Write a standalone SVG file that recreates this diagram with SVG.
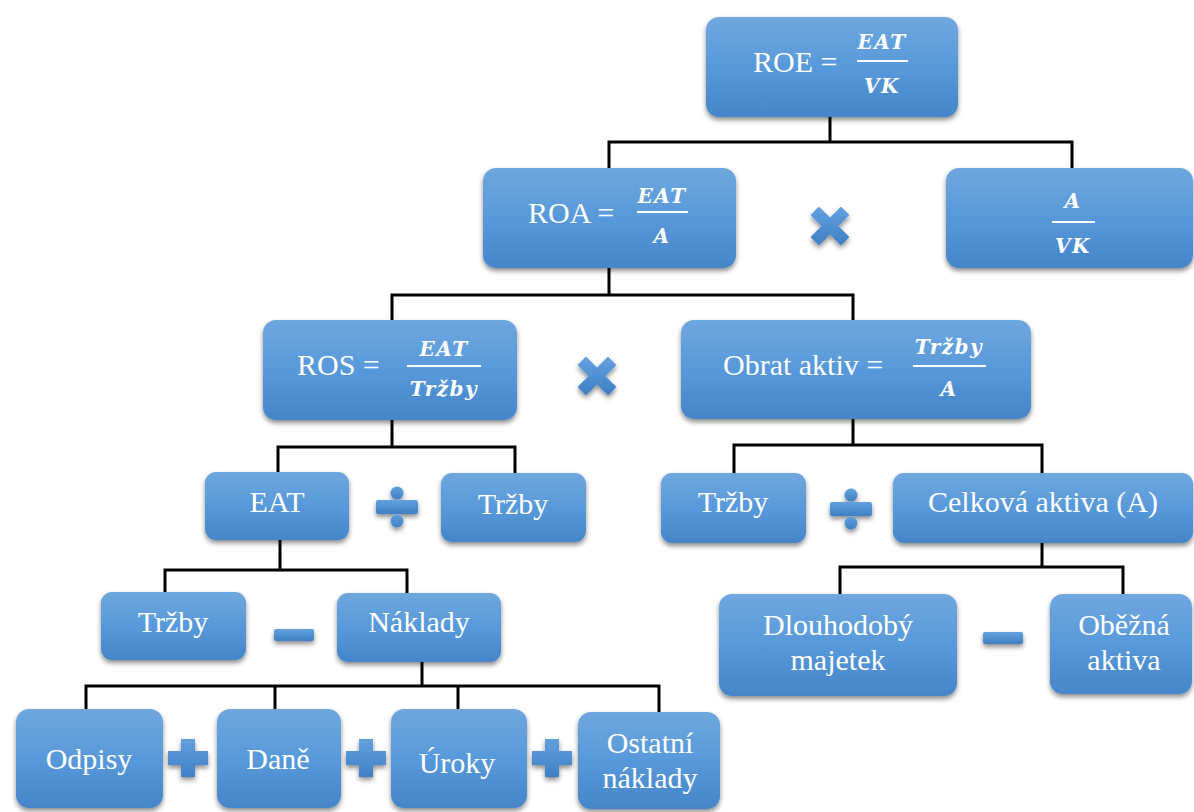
<svg xmlns="http://www.w3.org/2000/svg" xmlns:xlink="http://www.w3.org/1999/xlink" width="1194" height="812" viewBox="0 0 1194 812">
<defs>
<linearGradient id="bg" x1="0" y1="0" x2="0" y2="1">
<stop offset="0" stop-color="#6fa7de"/>
<stop offset="0.5" stop-color="#5799da"/>
<stop offset="1" stop-color="#4585c9"/>
</linearGradient>
<linearGradient id="sg" x1="0" y1="0" x2="0" y2="1">
<stop offset="0" stop-color="#62a0de"/>
<stop offset="1" stop-color="#3f80c6"/>
</linearGradient>
<filter id="sh" x="-10%" y="-10%" width="120%" height="130%">
<feDropShadow dx="0" dy="3" stdDeviation="2.5" flood-color="#000" flood-opacity="0.45"/>
</filter>
<g id="times">
<path d="M-11,-19 L0,-8 L11,-19 L18,-12 L7,-1 L18,10 L11,17 L0,6 L-11,17 L-18,10 L-7,-1 L-18,-12 Z" fill="url(#sg)" stroke="url(#sg)" stroke-width="2" stroke-linejoin="round"/>
</g>
<g id="div">
<rect x="-21" y="-7" width="42" height="14" rx="2" fill="url(#sg)"/>
<circle cx="0" cy="-14" r="6.5" fill="url(#sg)"/>
<circle cx="0" cy="14" r="6.5" fill="url(#sg)"/>
</g>
<g id="minus">
<rect x="-20" y="-6" width="40" height="12" rx="2" fill="url(#sg)"/>
</g>
<g id="plus">
<path d="M-7,-19 H7 V-7 H20 V7 H7 V19 H-7 V7 H-20 V-7 H-7 Z" fill="url(#sg)"/>
</g>
</defs>
<style>
.box{fill:url(#bg);filter:url(#sh)}
.t{font-family:"Liberation Serif","Times New Roman",serif;font-size:30px;fill:#fff}
.c{text-anchor:middle}
.m{font-family:"DejaVu Serif","Liberation Serif",serif;font-style:italic;font-weight:bold;font-size:20px;fill:#fff;text-anchor:middle;letter-spacing:1.5px}
.bar{stroke:#fff;stroke-width:2}
.conn{fill:none;stroke:#000;stroke-width:3;stroke-linecap:square}
.op{filter:url(#sh)}
</style>
<rect width="1194" height="812" fill="#fff"/>
<g id="connectors" class="conn">
<path d="M830 117 V142 M609 142 H1072 M609 142 V168 M1072 142 V168"/>
<path d="M609 268 V295 M392 295 H853 M392 295 V320 M853 295 V320"/>
<path d="M392 420 V447 M278 447 H515 M278 447 V472 M515 447 V473"/>
<path d="M853 419 V445 M734 445 H1042 M734 445 V473 M1042 445 V473"/>
<path d="M280 540 V570 M165 570 H407 M165 570 V592 M407 570 V593"/>
<path d="M1042 543 V567 M840 567 H1123 M840 567 V594 M1123 567 V594"/>
<path d="M422 662 V686 M86 686 H659 M86 686 V709 M275 686 V709 M458 686 V709 M659 686 V712"/>
</g>
<g id="roe">
<rect class="box" x="706" y="17" width="252" height="100" rx="13"/>
<text class="t" x="753" y="72">ROE =</text>
<text class="m" x="882" y="49">EAT</text>
<line class="bar" x1="857" y1="61" x2="908" y2="61"/>
<text class="m" x="882" y="93">VK</text>
</g>
<g id="roa">
<rect class="box" x="483" y="168" width="253" height="100" rx="13"/>
<text class="t" x="528" y="223">ROA =</text>
<text class="m" x="662" y="203">EAT</text>
<line class="bar" x1="637" y1="212" x2="688" y2="212"/>
<text class="m" x="662" y="243">A</text>
</g>
<g id="avk">
<rect class="box" x="946" y="168" width="247" height="100" rx="13"/>
<text class="m" x="1073" y="208">A</text>
<line class="bar" x1="1052" y1="222" x2="1095" y2="222"/>
<text class="m" x="1073" y="253">VK</text>
</g>
<g id="ros">
<rect class="box" x="263" y="320" width="254" height="100" rx="13"/>
<text class="t" x="297" y="375">ROS =</text>
<text class="m" x="444" y="356">EAT</text>
<line class="bar" x1="407" y1="366" x2="481" y2="366"/>
<text class="m" x="444" y="396">Tržby</text>
</g>
<g id="obrat">
<rect class="box" x="681" y="320" width="350" height="99" rx="13"/>
<text class="t" x="723" y="375">Obrat aktiv =</text>
<text class="m" x="949" y="354">Tržby</text>
<line class="bar" x1="913" y1="366" x2="986" y2="366"/>
<text class="m" x="949" y="396">A</text>
</g>
<g id="eat">
<rect class="box" x="205" y="472" width="144" height="68" rx="11"/>
<text class="t c" x="277" y="512">EAT</text>
</g>
<g id="trzby1">
<rect class="box" x="441" y="473" width="145" height="69" rx="11"/>
<text class="t c" x="513" y="514">Tržby</text>
</g>
<g id="trzby2">
<rect class="box" x="661" y="473" width="145" height="70" rx="11"/>
<text class="t c" x="733" y="512">Tržby</text>
</g>
<g id="celkova">
<rect class="box" x="893" y="473" width="300" height="70" rx="11"/>
<text class="t c" x="1043" y="512">Celková aktiva (A)</text>
</g>
<g id="trzby3">
<rect class="box" x="101" y="592" width="145" height="68" rx="11"/>
<text class="t c" x="173" y="632">Tržby</text>
</g>
<g id="naklady">
<rect class="box" x="337" y="593" width="164" height="69" rx="11"/>
<text class="t c" x="419" y="632">Náklady</text>
</g>
<g id="dlouhodoby">
<rect class="box" x="719" y="594" width="238" height="102" rx="13"/>
<text class="t c" x="838" y="635">Dlouhodobý</text>
<text class="t c" x="838" y="670">majetek</text>
</g>
<g id="obezna">
<rect class="box" x="1050" y="594" width="142" height="100" rx="13"/>
<text class="t c" x="1124" y="635">Oběžná</text>
<text class="t c" x="1124" y="670">aktiva</text>
</g>
<g id="odpisy">
<rect class="box" x="16" y="709" width="147" height="99" rx="13"/>
<text class="t c" x="89" y="769">Odpisy</text>
</g>
<g id="dane">
<rect class="box" x="217" y="709" width="124" height="99" rx="13"/>
<text class="t c" x="278" y="769">Daně</text>
</g>
<g id="uroky">
<rect class="box" x="391" y="709" width="136" height="99" rx="13"/>
<text class="t c" x="457" y="773">Úroky</text>
</g>
<g id="ostatni">
<rect class="box" x="578" y="712" width="142" height="97" rx="13"/>
<text class="t c" x="650" y="753">Ostatní</text>
<text class="t c" x="650" y="788">náklady</text>
</g>
<g id="operators" class="op">
<use xlink:href="#times" x="830" y="227"/>
<use xlink:href="#times" x="597" y="377"/>
<use xlink:href="#div" x="397" y="507"/>
<use xlink:href="#div" x="851" y="509"/>
<use xlink:href="#minus" x="294" y="635"/>
<use xlink:href="#minus" x="1003" y="638"/>
<use xlink:href="#plus" x="188" y="758"/>
<use xlink:href="#plus" x="366" y="758"/>
<use xlink:href="#plus" x="552" y="758"/>
</g>
</svg>
